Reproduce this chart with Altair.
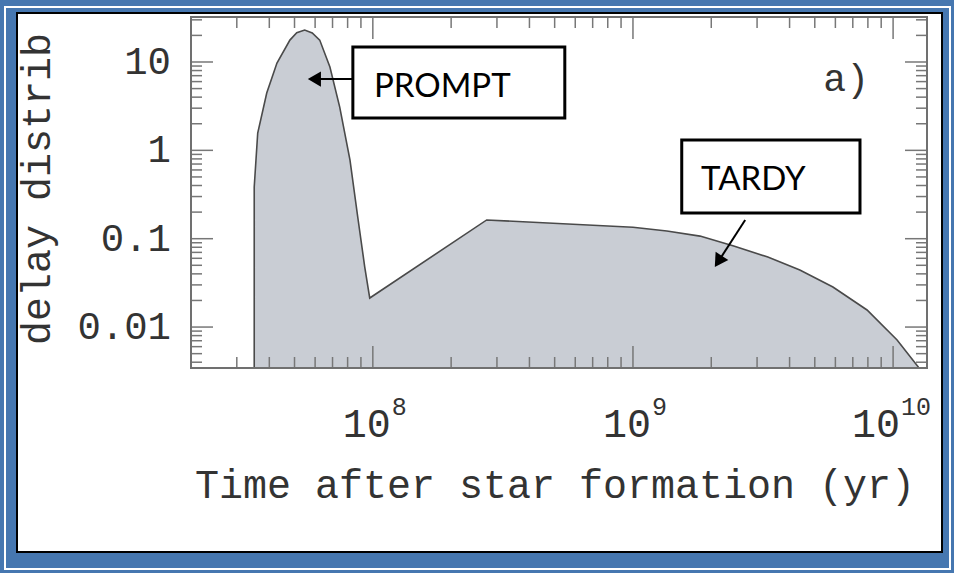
import altair as alt
import pandas as pd

# ---------------- data ----------------
time_yr = [3.5e7, 3.61e7, 3.91e7, 4.28e7, 4.80e7, 5.1e7, 5.47e7, 5.85e7, 6.25e7,
           6.84e7, 7.46e7, 8.17e7, 8.75e7, 9.31e7, 9.73e7, 2.74e8, 1.0e9, 1.35e9,
           1.81e9, 2.44e9, 3.3e9, 4.38e9, 5.87e9, 7.94e9, 1.036e10, 1.25e10]
delay = [0.385, 1.57, 4.46, 9.73, 17.7, 21.4, 23.0, 21.3, 17.7,
         8.77, 3.09, 0.776, 0.176, 0.0478, 0.0213, 0.163, 0.135, 0.122,
         0.107, 0.0826, 0.0619, 0.0442, 0.0284, 0.0156, 0.00713, 0.00352]

X_DOMAIN = [2.0e7, 1.35e10]
Y_DOMAIN = [0.00344, 32.3]

x_major = [1e8, 1e9, 1e10]
x_exponents = ["8", "9", "10"]
y_major = [0.01, 0.1, 1, 10]
y_labels = ["0.01", "0.1", "1", "10"]
minor_mult = [2, 3, 4, 5, 6, 7, 8, 9]
x_minor = [m * 10 ** e for e in (7, 8, 9) for m in minor_mult
           if X_DOMAIN[0] < m * 10 ** e < X_DOMAIN[1]]
y_minor = [m * 10.0 ** e for e in (-3, -2, -1, 0, 1) for m in minor_mult
           if Y_DOMAIN[0] < m * 10.0 ** e < Y_DOMAIN[1]]

x_title = "Time after star formation (yr)"
y_title = "delay distrib"

# annotations (data coordinates)
boxes = pd.DataFrame({
    "x1": [8.38e7, 1.54e9], "x2": [5.47e8, 7.46e9],
    "y1": [14.8, 1.31], "y2": [2.32, 0.195],
    "label": ["PROMPT", "TARDY"], "tx": [1.85e8, 2.9e9], "ty": [4.01, 0.356],
})
arrows = pd.DataFrame({
    "x1": [8.38e7, 2.7e9], "y1": [6.41, 0.1625],
    "x2": [5.96e7, 2.13e9], "y2": [6.41, 0.0553],
    "shape": ["triangle-left", "triangle-up"], "angle": [0, 213],
})
panel = pd.DataFrame({"x": [6.6e9], "y": [6.25], "text": ["a)"]})

# ---------------- layout / style ----------------
W, H = 736, 351
PAD = {"left": 191, "top": 17, "right": 27, "bottom": 205}
MONO = "Liberation Mono"
TXT = "#333333"
TICK = "#777777"
MAJ, MIN = 22, 11

xs = alt.Scale(type="log", domain=X_DOMAIN, nice=False)
ys = alt.Scale(type="log", domain=Y_DOMAIN, nice=False)

df = pd.DataFrame({"t": time_yr, "v": delay})
one = pd.DataFrame({"k": [0]})

outer = alt.Chart(one).mark_rect(fillOpacity=0, stroke="white", strokeWidth=2).encode(
    x=alt.value(-186), x2=alt.value(759), y=alt.value(-10), y2=alt.value(552))
inner = alt.Chart(one).mark_rect(fill="white", stroke="black", strokeWidth=2).encode(
    x=alt.value(-174), x2=alt.value(751), y=alt.value(-4), y2=alt.value(535))

area = alt.Chart(df).mark_area(fill="#c9cdd4", stroke="#4a4a4a", strokeWidth=1.6,
                               interpolate="linear").encode(
    x=alt.X("t:Q", scale=xs, axis=None),
    y=alt.Y("v:Q", scale=ys, axis=None),
    y2=alt.datum(Y_DOMAIN[0]),
)


def xticks(vals, length, top):
    y0, y1 = (0, length) if top else (H, H - length)
    return alt.Chart(pd.DataFrame({"t": vals})).mark_rule(color=TICK, strokeWidth=1.5).encode(
        x=alt.X("t:Q", scale=xs, axis=None), y=alt.value(y0), y2=alt.value(y1))


def yticks(vals, length, right):
    x0, x1 = (W, W - length) if right else (0, length)
    return alt.Chart(pd.DataFrame({"v": vals})).mark_rule(color=TICK, strokeWidth=1.5).encode(
        y=alt.Y("v:Q", scale=ys, axis=None), x=alt.value(x0), x2=alt.value(x1))


ticks = [xticks(x_major, MAJ, False), xticks(x_minor, MIN, False),
         xticks(x_major, MAJ, True), xticks(x_minor, MIN, True),
         yticks(y_major, MAJ, False), yticks(y_minor, MIN, False),
         yticks(y_major, MAJ, True), yticks(y_minor, MIN, True)]

frame = alt.Chart(one).mark_rect(fillOpacity=0, stroke="#707070", strokeWidth=2).encode(
    x=alt.value(0), x2=alt.value(W), y=alt.value(0), y2=alt.value(H))

# x tick labels 10^n
xlab = pd.DataFrame({"t": x_major, "base": ["10"] * 3, "exp": x_exponents})
xlab1 = xlab[xlab["exp"].str.len() == 1]
xlab2 = xlab[xlab["exp"].str.len() == 2]


def xlabels(d, shift):
    b = alt.Chart(d).mark_text(font=MONO, fontSize=40, color=TXT, align="right",
                               baseline="alphabetic", dx=shift).encode(
        x=alt.X("t:Q", scale=xs, axis=None), y=alt.value(420), text="base:N")
    e = alt.Chart(d).mark_text(font=MONO, fontSize=25, color=TXT, align="left",
                               baseline="alphabetic", dx=shift + 1).encode(
        x=alt.X("t:Q", scale=xs, axis=None), y=alt.value(398), text="exp:N")
    return [b, e]


labels = xlabels(xlab1, 18) + xlabels(xlab2, 7)

# y tick labels
ylab = pd.DataFrame({"v": y_major, "text": y_labels})
ylabels = alt.Chart(ylab).mark_text(font=MONO, fontSize=39, color=TXT, align="right",
                                    baseline="middle", dx=-20).encode(
    y=alt.Y("v:Q", scale=ys, axis=None), x=alt.value(0), text="text:N")

# axis titles
xt = alt.Chart(pd.DataFrame({"text": [x_title]})).mark_text(
    font=MONO, fontSize=40, color=TXT, align="center", baseline="middle").encode(
    x=alt.value(364), y=alt.value(H + 118), text="text:N")
yt = alt.Chart(pd.DataFrame({"text": [y_title]})).mark_text(
    font=MONO, fontSize=40, color=TXT, align="center", baseline="middle", angle=270).encode(
    x=alt.value(-153), y=alt.value(172), text="text:N")

a_text = alt.Chart(panel).mark_text(font=MONO, fontSize=38, color=TXT, baseline="middle").encode(
    x=alt.X("x:Q", scale=xs, axis=None), y=alt.Y("y:Q", scale=ys, axis=None), text="text:N")

box = alt.Chart(boxes).mark_rect(fill="white", stroke="black", strokeWidth=3).encode(
    x=alt.X("x1:Q", scale=xs, axis=None), x2="x2:Q",
    y=alt.Y("y1:Q", scale=ys, axis=None), y2="y2:Q")
box_text = alt.Chart(boxes).mark_text(font="Lato", fontSize=33, color="black",
                                      baseline="alphabetic").encode(
    x=alt.X("tx:Q", scale=xs, axis=None), y=alt.Y("ty:Q", scale=ys, axis=None), text="label:N")

shaft = alt.Chart(arrows).mark_rule(color="black", strokeWidth=2).encode(
    x=alt.X("x1:Q", scale=xs, axis=None), x2="x2:Q",
    y=alt.Y("y1:Q", scale=ys, axis=None), y2="y2:Q")
head = alt.Chart(arrows).mark_point(filled=True, size=230, color="black", opacity=1).encode(
    x=alt.X("x2:Q", scale=xs, axis=None), y=alt.Y("y2:Q", scale=ys, axis=None),
    shape=alt.Shape("shape:N", scale=None), angle=alt.Angle("angle:Q", scale=None))

chart = alt.layer(outer, inner, area, *ticks, frame, *labels, ylabels, xt, yt, a_text,
                  box, box_text, shaft, head).properties(
    width=W, height=H, padding=PAD, autosize=alt.AutoSizeParams(type="none"),
    background="#4677b0",
).configure_view(strokeWidth=0)

chart.save("out.html", embed_options={"renderer": "svg", "actions": False})
